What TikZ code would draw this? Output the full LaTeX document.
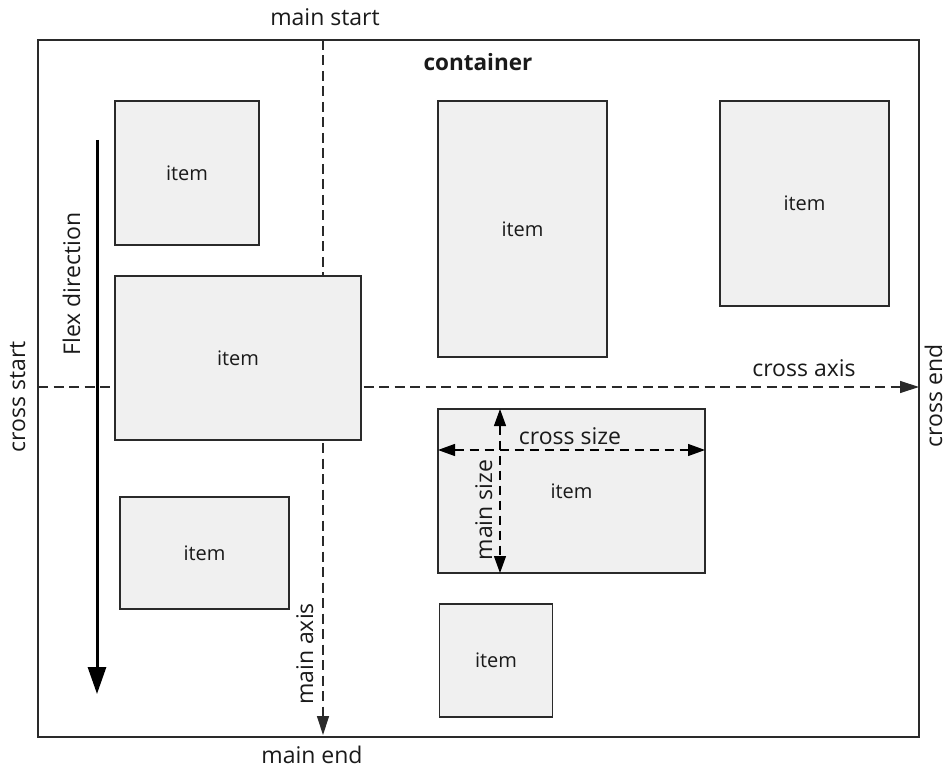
\documentclass[tikz,border=0pt]{standalone}
\usepackage{fontspec}
\setmainfont{Open Sans}
\usetikzlibrary{arrows.meta}
\definecolor{boxgray}{HTML}{F0F0F0}
\definecolor{linegray}{HTML}{2A2A2A}
\definecolor{txt}{HTML}{1A1A1A}
\begin{document}
\begin{tikzpicture}[x=1pt,y=-1pt,
  itembox/.style={draw=linegray, line width=1.3pt, fill=boxgray, inner sep=0pt, text=txt,
    font=\fontsize{20}{23}\selectfont},
  lbl/.style={font=\fontsize{23}{26}\selectfont, text=txt, inner sep=0pt},
  axisline/.style={line width=1.2pt, draw=linegray, dash pattern=on 10pt off 5.5pt,
    -{Triangle[length=19pt,width=12pt]}},
  dimline/.style={line width=1.2pt, draw=black, dash pattern=on 9pt off 6pt,
    {Triangle[length=17pt,width=12pt]}-{Triangle[length=17pt,width=12pt]}},
  flexarrow/.style={line width=3pt, draw=black, -{Triangle[length=27pt,width=18pt]}}
]
\useasboundingbox (0,0) rectangle (948,767);
\fill[white] (0,0) rectangle (948,767);

% container
\node[draw=linegray, line width=1.4pt, minimum width=881pt, minimum height=697pt, inner sep=0pt]
  (cont) at (478.5,388.5) {};
\node[lbl, font=\fontsize{22.5}{26}\selectfont\bfseries, anchor=base] (ctitle) at (478,71) {container};

% axes coordinates
\coordinate (ms) at (323,40);
\coordinate (me) at (323,735);
\coordinate (cs) at (38,387);
\coordinate (ce) at (919,387);

% axes (drawn under items)
\draw[axisline] (ms) -- (me);
\draw[axisline] (cs) -- (ce);

% items
\node[itembox, minimum width=144pt, minimum height=144pt] (i1) at (187,173) {item};
\node[itembox, minimum width=246pt, minimum height=164pt] (i2) at (238,358) {item};
\node[itembox, minimum width=169pt, minimum height=112pt] (i3) at (204.5,553) {item};
\node[itembox, minimum width=169pt, minimum height=256pt] (i4) at (522.5,229) {item};
\node[itembox, minimum width=169pt, minimum height=205pt] (i5) at (804.5,203.5) {item};
\node[itembox, minimum width=267pt, minimum height=164pt] (i6) at (571.5,491) {item};
\node[itembox, minimum width=113pt, minimum height=113pt] (i7) at (496,660.5) {item};

% flex direction arrow
\coordinate (fs) at (97,140);
\coordinate (fe) at (97,694);
\draw[flexarrow] (fs) -- (fe);

% size dimension arrows inside item 6
\coordinate (csl) at (438,450);
\coordinate (csr) at (705,450);
\coordinate (mst) at (500,409);
\coordinate (msb) at (500,573);
\draw[dimline] (csl) -- (csr);
\draw[dimline] (mst) -- (msb);

% labels
\node[lbl, anchor=base] (lmainstart) at (325,26) {main start};
\node[lbl, anchor=base] (lmainend) at (312,763) {main end};
\node[lbl, anchor=base] (lcrossaxis) at (804,376) {cross axis};
\node[lbl, anchor=base] (lcrosssize) at (570,444) {cross size};
\node[lbl, anchor=base, rotate=90] (lcrossstart) at (25,397) {cross start};
\node[lbl, anchor=base, rotate=90] (lcrossend) at (942,396) {cross end};
\node[lbl, anchor=base, rotate=90] (lflex) at (80,284) {Flex direction};
\node[lbl, anchor=base, rotate=90] (lmainaxis) at (313,654) {main axis};
\node[lbl, anchor=base, rotate=90] (lmainsize) at (492,510) {main size};
\end{tikzpicture}
\end{document}
